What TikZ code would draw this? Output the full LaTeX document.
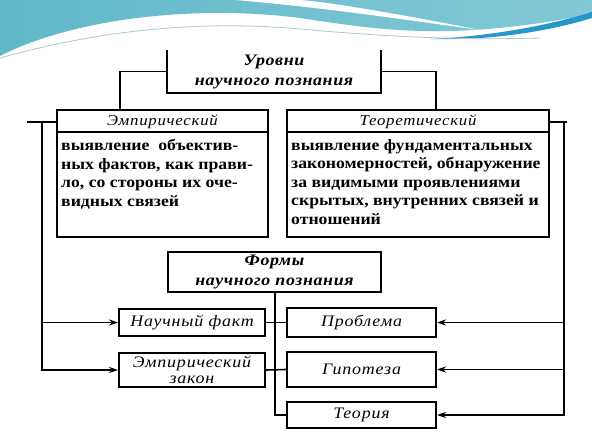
\documentclass[tikz,border=0pt]{standalone}
\usepackage{fontspec}
\setmainfont{Liberation Serif}[FakeStretch=1.12]
\usetikzlibrary{arrows.meta}

\definecolor{wavedark}{RGB}{96,184,202}
\definecolor{wavelight}{RGB}{130,200,215}
\definecolor{wavestreak}{RGB}{40,150,200}
\definecolor{waveline}{RGB}{170,200,210}

\begin{document}
\begin{tikzpicture}[x=1pt, y=-1pt,
	box/.style={draw, line width=2pt, inner sep=0pt},
	conn/.style={line width=1.6pt},
	arr/.style={conn, -{Stealth[length=9pt, width=6pt]}},
	title/.style={font=\fontsize{16}{20}\selectfont\bfseries\itshape\addfontfeature{LetterSpace=4}, align=center},
	head/.style={font=\fontsize{15}{17}\selectfont\itshape\addfontfeature{LetterSpace=5}},
	body/.style={font=\fontsize{15.8}{18.5}\selectfont\bfseries, align=left, inner sep=0pt, anchor=north west},
	form/.style={font=\fontsize{16}{17}\selectfont\itshape\addfontfeature{LetterSpace=5}, align=center}]
	\useasboundingbox (0,0) rectangle (592,436);
	% background waves
	\shade[left color=wavedark, right color=wavelight] (0,0) -- (0,56) .. controls (70,20) and (190,4) .. (300,18)
		.. controls (380,30) and (450,42) .. (592,14) -- (592,0) -- cycle;
	\fill[white] (235,0) .. controls (330,8) and (420,22) .. (480,30) .. controls (410,16) and (330,2) .. (300,0) -- cycle;
	\fill[wavestreak] (430,39) .. controls (500,36) and (560,22) .. (592,12) -- (592,18) .. controls (560,28) and (500,41) .. (430,39);
	\draw[waveline, line width=0.8pt] (0,58) .. controls (100,30) and (200,20) .. (300,29) .. controls (400,38) and (470,40) .. (540,38);

	% levels
	\node[inner sep=0pt, minimum width=214pt, minimum height=43pt] (lev) at (274,71.5) {};
	\draw[line width=2pt] (lev.north west) -- (lev.south west) -- (lev.south east) -- (lev.north east);
	\node[title] at (lev) {Уровни\\научного познания};

	\node[box, minimum width=211pt, minimum height=127pt] (emp) at (162.5,173.5) {};
	\node[head] (empH) at (162.5,121.5) {Эмпирический};
	\draw[line width=2pt] ([yshift=-23pt]emp.north west) -- ([yshift=-23pt]emp.north east);
	\node[body] (empT) at ([xshift=5pt, yshift=-30pt]emp.north west)
		{выявление~~объектив-\\ных фактов, как прави-\\ло, со стороны их оче-\\видных связей};

	\node[box, minimum width=262pt, minimum height=127pt] (teo) at (418,173.5) {};
	\node[head] (teoH) at (418,121.5) {Теоретический};
	\draw[line width=2pt] ([yshift=-23pt]teo.north west) -- ([yshift=-23pt]teo.north east);
	\node[body] (teoT) at ([xshift=5pt, yshift=-30pt]teo.north west)
		{выявление фундаментальных\\закономерностей, обнаружение\\за видимыми проявлениями\\скрытых, внутренних связей и\\отношений};

	\draw[conn] (lev.west) -| ([xshift=-42.5pt]emp.north);
	\draw[conn] (lev.east) -| ([xshift=18pt]teo.north);

	% forms
	\node[box, title, minimum width=213pt, minimum height=40pt] (forms) at (274.5,272) {Формы\\научного познания};
	\node[box, form, minimum width=146pt, minimum height=27pt] (fact) at (192,322.5) {Научный факт};
	\node[box, form, minimum width=146pt, minimum height=34pt, font=\fontsize{16}{16}\selectfont\itshape\addfontfeature{LetterSpace=5}] (law) at (192,370) {Эмпирический\\закон};
	\node[box, form, minimum width=149pt, minimum height=29pt] (prob) at (361.5,322.5) {Проблема};
	\node[box, form, minimum width=149pt, minimum height=35pt] (hyp) at (361.5,369.5) {Гипотеза};
	\node[box, form, minimum width=149pt, minimum height=26pt] (theory) at (361.5,415) {Теория};

	\draw[conn] (forms.south) ++(0.5,0) |- (theory.west);
	\draw[conn] (fact.east) -- (prob.west);
	\draw[conn] (law.east) -- (hyp.west);

	% left side
	\coordinate (lt) at (42,122);
	\draw[conn] (27,122) -- (emp.west |- 0,122);
	\draw[arr] (lt) |- (fact.west);
	\draw[arr, line width=2.6pt] (lt) |- (law.west);

	% right side
	\coordinate (rt) at (564,122);
	\draw[conn] (teo.east |- rt) -- (567,122);
	\draw[arr] (rt) |- (prob.east);
	\draw[arr] (rt) |- (hyp.east);
	\draw[arr] (rt) |- (theory.east);
\end{tikzpicture}
\end{document}
